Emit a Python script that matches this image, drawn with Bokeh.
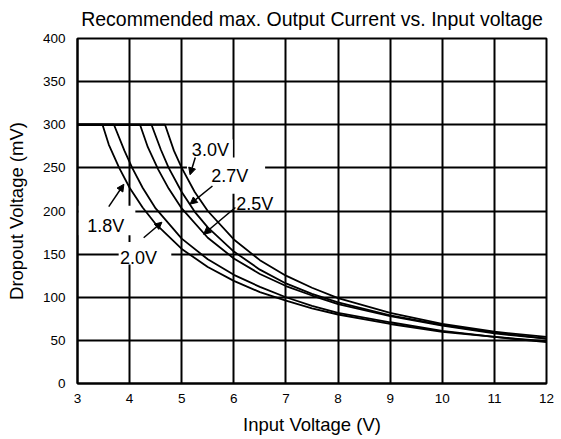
from bokeh.plotting import figure
from bokeh.models import Range1d, FixedTicker, Label, Arrow, NormalHead
from bokeh.embed import file_html
from bokeh.resources import INLINE

# ---- data ----
x_ticks = [3, 4, 5, 6, 7, 8, 9, 10, 11, 12]
y_ticks = [0, 50, 100, 150, 200, 250, 300, 350, 400]

v_18 = [3, 3.48, 3.6, 3.8, 4.0, 4.25, 4.5, 5.0, 5.5, 6.0, 6.5, 7.0, 7.5, 8.0, 9.0, 10.0, 11.0, 12.0]
mv_18 = [300, 300, 277, 250, 227, 204, 185, 156, 135, 119, 106, 96, 87, 80, 69, 60, 54, 48]

v_20 = [3, 3.7, 3.9, 4.05, 4.25, 4.5, 5.0, 5.5, 6.0, 6.5, 7.0, 7.5, 8.0, 9.0, 10.0, 11.0, 12.0]
mv_20 = [300, 300, 270, 250, 227, 203, 168, 144, 126, 112, 100, 90, 82, 71, 61, 54, 49]

v_25 = [3, 4.2, 4.35, 4.55, 4.75, 5.0, 5.5, 6.0, 6.5, 7.0, 7.5, 8.0, 9.0, 10.0, 11.0, 12.0]
mv_25 = [300, 300, 274, 248, 226, 203, 169, 145, 127, 113, 102, 92, 78, 67, 58, 52]

v_27 = [3, 4.42, 4.6, 4.75, 5.0, 5.25, 5.5, 6.0, 6.5, 7.0, 7.5, 8.0, 9.0, 10.0, 11.0, 12.0]
mv_27 = [300, 300, 271, 250, 222, 199, 181, 153, 132, 116, 104, 94, 79, 68, 59, 52]

v_30 = [3, 4.68, 4.85, 5.0, 5.25, 5.5, 6.0, 6.5, 7.0, 7.5, 8.0, 9.0, 10.0, 11.0, 12.0]
mv_30 = [300, 300, 270, 250, 222, 200, 167, 143, 125, 111, 99, 82, 69, 60, 54]

FONT = "Liberation Sans"

p = figure(width=561, height=439,
           x_range=Range1d(3, 12), y_range=Range1d(0, 400),
           output_backend="svg", toolbar_location=None,
           title="Recommended max. Output Current vs. Input voltage",
           min_border_left=77, min_border_right=15,
           min_border_top=38, min_border_bottom=56)

p.title.text_font = FONT
p.title.text_font_size = "19.5px"
p.title.text_font_style = "normal"
p.title.align = "center"
p.title.vertical_align = "top"
p.title.standoff = 14
p.title.text_color = "black"

for ax in (p.xaxis[0], p.yaxis[0]):
    ax.major_tick_in = 0
    ax.major_tick_out = 0
    ax.minor_tick_in = 0
    ax.minor_tick_out = 0
    ax.axis_line_color = "black"
    ax.axis_line_width = 2
    ax.major_label_text_font = FONT
    ax.major_label_text_font_size = "13.5px"
    ax.major_label_text_color = "black"
    ax.axis_label_text_font = FONT
    ax.axis_label_text_font_size = "18.5px"
    ax.axis_label_text_font_style = "normal"
    ax.axis_label_text_color = "black"

p.xaxis.ticker = FixedTicker(ticks=x_ticks)
p.yaxis.ticker = FixedTicker(ticks=y_ticks)
p.xaxis.axis_label = "Input Voltage (V)"
p.yaxis.axis_label = "Dropout Voltage (mV)"
p.xaxis.major_label_standoff = 10
p.xaxis.axis_label_standoff = 8
p.yaxis.major_label_standoff = 12
p.yaxis.axis_label_standoff = 13

p.xgrid.grid_line_color = "black"
p.ygrid.grid_line_color = "black"
p.xgrid.grid_line_width = 2
p.ygrid.grid_line_width = 2
p.xgrid.grid_line_alpha = 1
p.ygrid.grid_line_alpha = 1

p.outline_line_color = "black"
p.outline_line_width = 2
p.outline_line_alpha = 1

# white backgrounds behind the curve labels (cut the grid lines)
p.quad(left=[5.1, 5.5, 3.02, 3.79], right=[5.98, 6.6, 4.11, 4.8],
       bottom=[247, 220, 172, 138], top=[283, 262, 206, 164],
       fill_color="white", line_color=None)

for xs, ys in ((v_18, mv_18), (v_20, mv_20), (v_25, mv_25), (v_27, mv_27), (v_30, mv_30)):
    p.line(xs, ys, line_color="black", line_width=1.8)

labels = [("3.0V", 5.55, 271), ("2.7V", 5.92, 241), ("2.5V", 6.4, 208),
          ("1.8V", 3.54, 183), ("2.0V", 4.17, 145)]
for t, x, y in labels:
    p.add_layout(Label(x=x, y=y, text=t, text_align="center", text_baseline="middle",
                       text_font=FONT, text_font_size="18px", text_color="black"))

arrows = [(5.26, 262, 5.16, 242), (5.59, 229, 5.16, 208), (6.03, 204, 5.42, 173),
          (3.6, 205, 3.89, 231), (4.27, 169, 4.62, 187)]
for x0, y0, x1, y1 in arrows:
    p.add_layout(Arrow(end=NormalHead(size=7, fill_color="black", line_color="black"),
                       x_start=x0, y_start=y0, x_end=x1, y_end=y1,
                       line_color="black", line_width=1.5))

open("out.html", "w").write(file_html(p, INLINE))
